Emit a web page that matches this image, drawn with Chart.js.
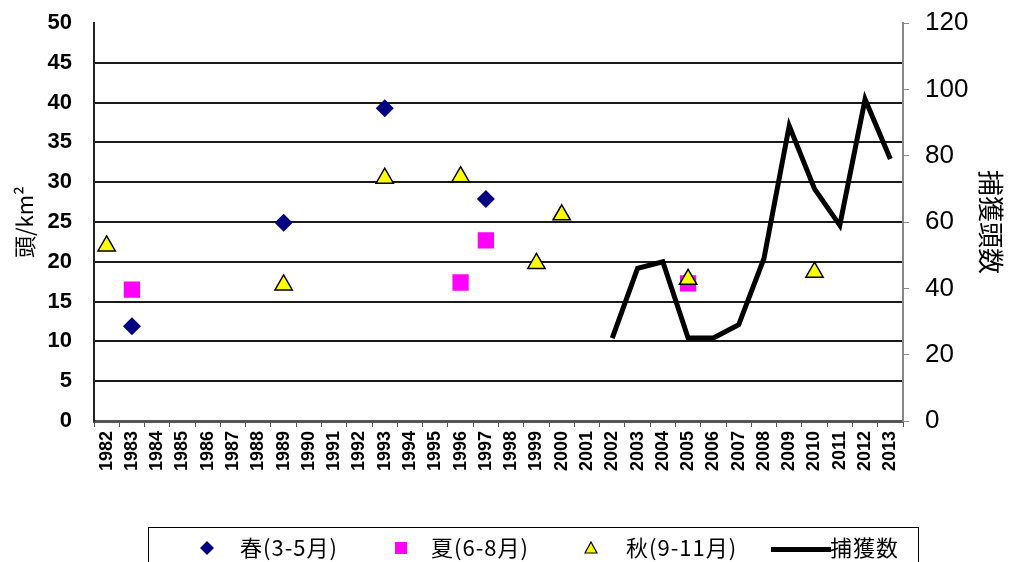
<!DOCTYPE html>
<html>
<head>
<meta charset="utf-8">
<script src="https://cdn.jsdelivr.net/npm/chart.js@4/dist/chart.umd.min.js"></script>
<style>
  body { margin: 0; background: #fff; }
  #wrap { position: relative; width: 1010px; height: 562px; overflow: hidden; }
  #chart { position: absolute; left: 0; top: 0; }
  .legend {
    position: absolute; left: 148px; top: 527px; width: 771px; height: 50px;
    border: 1px solid #000; box-sizing: border-box;
    font-family: "Noto Sans CJK JP", sans-serif; font-size: 22px; letter-spacing: 1px; color: #000;
  }
  .legend span { position: absolute; top: 4px; line-height: 28px; white-space: nowrap; }
  .mk { position: absolute; }
</style>
</head>
<body>
<div id="wrap">
  <canvas id="chart" width="1010" height="562"></canvas>
  <div class="legend">
    <svg class="mk" style="left:50px;top:12px" width="16" height="16"><polygon points="8,1 15,8 8,15 1,8" fill="#000080"/></svg>
    <span style="left:91px">春(3-5月)</span>
    <svg class="mk" style="left:244px;top:12px" width="16" height="16"><rect x="2" y="2" width="12" height="12" fill="#ff00ff"/></svg>
    <span style="left:282px">夏(6-8月)</span>
    <svg class="mk" style="left:434px;top:12px" width="16" height="16"><polygon points="8,2 14,13 2,13" fill="#ffff00" stroke="#000" stroke-width="1.2"/></svg>
    <span style="left:477px">秋(9-11月)</span>
    <div class="mk" style="left:622px;top:19px;width:60px;height:5px;background:#000"></div>
    <span style="left:681px">捕獲数</span>
  </div>
</div>
<script>
  // x categories
  const years = ["1982", "1983", "1984", "1985", "1986", "1987", "1988", "1989", "1990", "1991",
    "1992", "1993", "1994", "1995", "1996", "1997", "1998", "1999", "2000", "2001", "2002",
    "2003", "2004", "2005", "2006", "2007", "2008", "2009", "2010", "2011", "2012", "2013"];

  // density (頭/km2) by season
  const springYears = ["1983", "1989", "1993", "1997"];
  const springValues = [11.9, 24.9, 39.3, 27.9];
  const summerYears = ["1983", "1996", "1997", "2005"];
  const summerValues = [16.5, 17.4, 22.7, 17.3];
  const autumnYears = ["1982", "1989", "1993", "1996", "1999", "2000", "2005", "2010"];
  const autumnValues = [22.0, 17.1, 30.5, 30.7, 19.8, 25.9, 17.8, 18.7];

  // captures (right axis)
  const captureYears = ["2002", "2003", "2004", "2005", "2006", "2007", "2008", "2009", "2010", "2011", "2012", "2013"];
  const captureValues = [25, 46, 48, 25, 25, 29, 49, 89, 70, 59, 97, 79];

  const pairs = (xs, ys) => xs.map((x, i) => ({ x, y: ys[i] }));

  const numFont = "'Liberation Sans', Arial, sans-serif";
  const jpFont = "'Noto Sans CJK JP', sans-serif";

  // pin the axis boxes so the plot area lands where the original one is
  const fixBox = (w) => s => {
    s.width = w;
    s.paddingTop = 0;
    s.paddingBottom = 0;
  };

  new Chart(document.getElementById("chart"), {
    type: "line",
    data: {
      labels: years,
      datasets: [
        {
          label: "捕獲数",
          data: pairs(captureYears, captureValues),
          yAxisID: "y1",
          borderColor: "#000",
          borderWidth: 5,
          borderJoinStyle: "miter",
          pointRadius: 0,
          fill: false,
          tension: 0,
          order: 0
        },
        {
          label: "秋(9-11月)",
          data: pairs(autumnYears, autumnValues),
          yAxisID: "y",
          showLine: false,
          pointStyle: "triangle",
          pointRadius: 10,
          pointBackgroundColor: "#ffff00",
          pointBorderColor: "#000",
          pointBorderWidth: 1.5,
          order: 1
        },
        {
          label: "夏(6-8月)",
          data: pairs(summerYears, summerValues),
          yAxisID: "y",
          showLine: false,
          pointStyle: "rect",
          pointRadius: 11.5,
          pointBackgroundColor: "#ff00ff",
          pointBorderColor: "#ff00ff",
          pointBorderWidth: 0,
          order: 2
        },
        {
          label: "春(3-5月)",
          data: pairs(springYears, springValues),
          yAxisID: "y",
          showLine: false,
          pointStyle: "rectRot",
          pointRadius: 9,
          pointBackgroundColor: "#000080",
          pointBorderColor: "#000080",
          pointBorderWidth: 0,
          order: 3
        }
      ]
    },
    options: {
      responsive: false,
      animation: false,
      layout: { padding: { top: 23, left: 0, right: 0, bottom: 0 } },
      plugins: {
        legend: { display: false },
        tooltip: { enabled: false }
      },
      scales: {
        x: {
          type: "category",
          offset: true,
          grid: { offset: true, drawOnChartArea: false, drawTicks: true, tickLength: 6, color: "#555", lineWidth: 1 },
          border: { color: "#555", width: 3 },
          ticks: {
            autoSkip: false, minRotation: 90, maxRotation: 90, padding: 4,
            color: "#000", font: { family: numFont, size: 18, weight: "bold" }
          },
          afterFit: s => { s.height = 141; s.paddingLeft = 0; s.paddingRight = 0; }
        },
        y: {
          position: "left",
          min: 0, max: 50,
          ticks: { stepSize: 5, padding: 22, color: "#000", font: { family: numFont, size: 22, weight: "bold" } },
          grid: {
            drawTicks: false,
            lineWidth: 2,
            color: c => (c.tick && c.tick.value === 50) ? "rgba(0,0,0,0)" : "#1a1a1a"
          },
          border: { color: "#222", width: 2 },
          title: { display: true, text: "頭/km²", color: "#000", padding: { top: 11 }, font: { family: jpFont, size: 22 } },
          afterFit: fixBox(94)
        },
        y1: {
          position: "right",
          min: 0, max: 120,
          ticks: { stepSize: 20, padding: 16, color: "#000", font: { family: numFont, size: 26 } },
          grid: { drawOnChartArea: false, drawTicks: true, tickLength: 6, color: "#888" },
          border: { color: "#888", width: 2 },
          title: { display: true, text: "捕獲頭数", color: "#000", padding: { top: 4 }, font: { family: jpFont, size: 26 } },
          afterFit: fixBox(107)
        }
      }
    }
  });
</script>
</body>
</html>
